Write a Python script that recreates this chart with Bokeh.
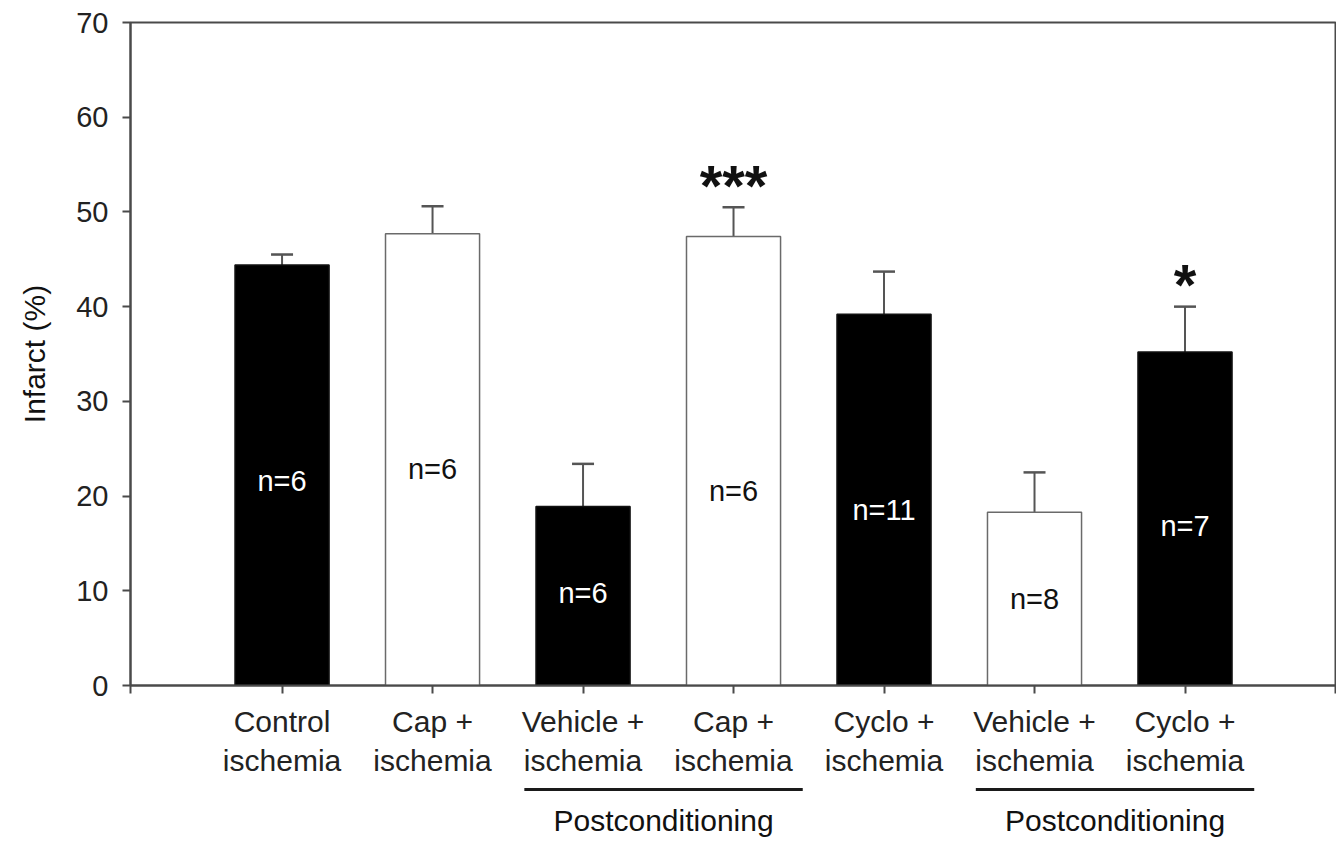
from bokeh.plotting import figure
from bokeh.layouts import column
from bokeh.models import (ColumnDataSource, FixedTicker, Whisker, TeeHead, Label,
                          LabelSet, Range1d)
from bokeh.core.properties import value
from bokeh.embed import file_html
from bokeh.resources import INLINE

# ---------------- data ----------------
categories = ["Control\nischemia", "Cap +\nischemia", "Vehicle +\nischemia",
              "Cap +\nischemia", "Cyclo +\nischemia", "Vehicle +\nischemia",
              "Cyclo +\nischemia"]
infarct = [44.4, 47.7, 18.9, 47.4, 39.2, 18.3, 35.2]
sem = [1.1, 2.9, 4.5, 3.1, 4.5, 4.2, 4.8]
n_labels = ["n=6", "n=6", "n=6", "n=6", "n=11", "n=8", "n=7"]
n_label_y = [21.6, 22.9, 9.8, 20.5, 18.5, 9.1, 16.8]
filled = [True, False, True, False, True, False, True]
significance = {3: "***", 6: "*"}
group_names = ["Postconditioning", "Postconditioning"]
group_first = [2, 5]
group_last = [3, 6]
y_ticks = [0, 10, 20, 30, 40, 50, 60, 70]

FONT = "Liberation Sans"
AXIS_COL = "#4a4a4a"
X_RANGE = Range1d(-1.007, 7.0)

xs = list(range(len(categories)))
src = ColumnDataSource(dict(
    x=xs, top=infarct, upper=[m + s for m, s in zip(infarct, sem)],
    fill=["black" if f else "white" for f in filled],
    line=["#111111" if f else "#6a6a6a" for f in filled],
    ny=n_label_y, nt=n_labels,
    ncol=["white" if f else "#111111" for f in filled],
))

p = figure(width=1336, height=780, output_backend="svg", toolbar_location=None,
           x_range=X_RANGE, y_range=Range1d(0, 70),
           min_border_left=130, min_border_right=1, min_border_top=22,
           min_border_bottom=93)
p.grid.visible = False
p.outline_line_color = AXIS_COL
p.outline_line_width = 2
p.background_fill_color = "white"
p.border_fill_color = "white"

p.vbar(x="x", top="top", bottom=0, width=0.625, source=src,
       fill_color="fill", line_color="line", line_width=1.5)

p.add_layout(Whisker(base="x", lower="top", upper="upper", source=src,
                     line_color="#555555", line_width=2,
                     upper_head=TeeHead(size=22, line_color="#555555", line_width=2.5),
                     lower_head=None))

p.add_layout(LabelSet(x="x", y="ny", text="nt", source=src, text_color="ncol",
                      text_font=value(FONT), text_font_size=value("29px"),
                      text_align="center", text_baseline="middle"))

for i, s in significance.items():
    p.add_layout(Label(x=i, y=infarct[i] + sem[i] + 2.3, text=s,
                       text_font=FONT, text_font_size="58px", text_font_style="bold",
                       text_align="center", text_baseline="middle", text_color="#111111"))

# y axis
p.yaxis.ticker = FixedTicker(ticks=y_ticks)
p.yaxis.axis_label = "Infarct (%)"
p.yaxis.axis_label_text_font = FONT
p.yaxis.axis_label_text_font_size = "30px"
p.yaxis.axis_label_text_font_style = "normal"
p.yaxis.axis_label_text_color = "#111111"
p.yaxis.axis_label_standoff = 22
p.yaxis.major_label_text_font = FONT
p.yaxis.major_label_text_font_size = "29px"
p.yaxis.major_label_text_color = "#222222"
p.yaxis.major_label_standoff = 14
p.yaxis.major_tick_out = 8
p.yaxis.major_tick_in = 0
p.yaxis.minor_tick_out = 0
p.yaxis.minor_tick_in = 0
p.yaxis.axis_line_color = AXIS_COL
p.yaxis.axis_line_width = 2
p.yaxis.major_tick_line_color = AXIS_COL
p.yaxis.major_tick_line_width = 2

# x axis
edge_l, edge_r = X_RANGE.start, X_RANGE.end
p.xaxis.ticker = FixedTicker(ticks=[edge_l] + xs + [edge_r])
overrides = {i: c for i, c in enumerate(categories)}
overrides[edge_l] = ""
overrides[edge_r] = ""
p.xaxis.major_label_overrides = overrides
p.xaxis.major_label_text_font = FONT
p.xaxis.major_label_text_font_size = "30px"
p.xaxis.major_label_text_color = "#222222"
p.xaxis.major_label_standoff = 11
p.xaxis.major_tick_out = 8
p.xaxis.major_tick_in = 0
p.xaxis.minor_tick_out = 0
p.xaxis.minor_tick_in = 0
p.xaxis.axis_line_color = AXIS_COL
p.xaxis.axis_line_width = 2
p.xaxis.major_tick_line_color = AXIS_COL
p.xaxis.major_tick_line_width = 2

# ---- group brackets (Postconditioning) in a strip below ----
p2 = figure(width=1336, height=62, output_backend="svg", toolbar_location=None,
            x_range=X_RANGE, y_range=Range1d(0, 62),
            min_border_left=130, min_border_right=1, min_border_top=0,
            min_border_bottom=0)
p2.axis.visible = False
p2.grid.visible = False
p2.outline_line_color = None
p2.background_fill_color = "white"
p2.border_fill_color = "white"
gsrc = ColumnDataSource(dict(
    x0=[a - 0.39 for a in group_first], x1=[b + 0.46 for b in group_last],
    xc=[(a - 0.39 + b + 0.46) / 2 for a, b in zip(group_first, group_last)],
    name=group_names,
))
p2.segment(x0="x0", x1="x1", y0=53, y1=53, source=gsrc,
           line_width=3, line_color="#1a1a1a")
p2.text(x="xc", y=22, text="name", source=gsrc, text_font=value(FONT),
        text_font_size=value("30px"), text_align="center",
        text_baseline="middle", text_color="#111111")

layout = column(p, p2, spacing=0)
open("out.html", "w").write(file_html(layout, INLINE))
